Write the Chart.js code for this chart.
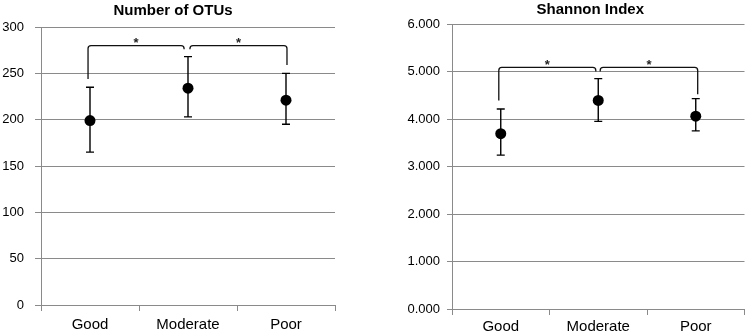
<!DOCTYPE html>
<html>
<head>
<meta charset="utf-8">
<script src="https://cdn.jsdelivr.net/npm/chart.js@4"></script>
<style>
  body { margin: 0; background: #fff; }
  #wrap { display: flex; width: 750px; height: 334px; }
  canvas { display: block; }
</style>
</head>
<body>
<div id="wrap">
  <canvas id="otuChart" width="375" height="334"></canvas>
  <canvas id="shannonChart" width="375" height="334"></canvas>
</div>
<script>
const groups = ['Good', 'Moderate', 'Poor'];

// Number of OTUs (mean, lower and upper end of the error bar)
const otuMean = [199, 234, 221];
const otuLow = [165, 203, 195];
const otuHigh = [235, 268, 250];

// Shannon index
const shannonMean = [3.69, 4.39, 4.06];
const shannonLow = [3.24, 3.95, 3.75];
const shannonHigh = [4.21, 4.85, 4.43];

// significance brackets: x as category index, y in data units
const otuBrackets = [
    { from: -0.02, to: 0.96, y: 280, fromEnd: 244, toEnd: 276 },
    { from: 1.02, to: 2.01, y: 280, fromEnd: 276, toEnd: 259 }
];
const shannonBrackets = [
    { from: -0.02, to: 0.975, y: 5.085, fromEnd: 4.39, toEnd: 5.0 },
    { from: 1.02, to: 2.02, y: 5.085, fromEnd: 5.0, toEnd: 4.52 }
];

const gridColor = '#8a8a8a';
const font = 'Liberation Sans, Arial, sans-serif';

const errorBars = {
    id: 'errorBars',
    beforeDatasetsDraw(chart, args, opts) {
        const { ctx, scales: { x, y } } = chart;
        ctx.save();
        ctx.strokeStyle = '#000';
        ctx.lineWidth = 1.4;
        opts.low.forEach((lo, i) => {
            const px = x.getPixelForValue(i);
            const yLo = y.getPixelForValue(lo);
            const yHi = y.getPixelForValue(opts.high[i]);
            ctx.beginPath();
            ctx.moveTo(px, yLo);
            ctx.lineTo(px, yHi);
            ctx.moveTo(px - 4, yLo);
            ctx.lineTo(px + 4, yLo);
            ctx.moveTo(px - 4, yHi);
            ctx.lineTo(px + 4, yHi);
            ctx.stroke();
        });
        ctx.restore();
    }
};

const brackets = {
    id: 'brackets',
    afterDraw(chart, args, opts) {
        const { ctx, scales: { x, y } } = chart;
        ctx.save();
        ctx.strokeStyle = '#111';
        ctx.lineWidth = 1.3;
        opts.items.forEach(b => {
            const x1 = x.getPixelForValue(b.from);
            const x2 = x.getPixelForValue(b.to);
            const yy = y.getPixelForValue(b.y);
            const y1 = y.getPixelForValue(b.fromEnd);
            const y2 = y.getPixelForValue(b.toEnd);
            ctx.beginPath();
            ctx.moveTo(x1, y1);
            ctx.arcTo(x1, yy, x2, yy, 3);
            ctx.arcTo(x2, yy, x2, y2, 3);
            ctx.lineTo(x2, y2);
            ctx.stroke();
            ctx.fillStyle = '#222';
            ctx.font = 'bold 13px ' + font;
            ctx.textAlign = 'center';
            ctx.textBaseline = 'middle';
            ctx.fillText('*', (x1 + x2) / 2, yy - 2);
        });
        ctx.restore();
    }
};

const chartTitle = {
    id: 'chartTitle',
    afterDraw(chart, args, opts) {
        const { ctx, chartArea } = chart;
        ctx.save();
        ctx.fillStyle = '#000';
        ctx.font = 'bold 15px ' + font;
        ctx.textAlign = 'center';
        ctx.textBaseline = 'middle';
        ctx.fillText(opts.text, (chartArea.left + chartArea.right) / 2 + opts.shift, opts.y);
        ctx.restore();
    }
};

function makeChart(id, cfg) {
    return new Chart(document.getElementById(id), {
        type: 'line',
        data: {
            labels: groups,
            datasets: [{
                data: cfg.mean,
                showLine: false,
                pointRadius: 5.5,
                pointBackgroundColor: '#000',
                pointBorderColor: '#000',
                pointBorderWidth: 0
            }]
        },
        options: {
            responsive: false,
            animation: false,
            layout: { padding: cfg.padding },
            plugins: {
                legend: { display: false },
                tooltip: { enabled: false },
                errorBars: { low: cfg.low, high: cfg.high },
                brackets: { items: cfg.brackets },
                chartTitle: cfg.title
            },
            scales: {
                x: {
                    type: 'category',
                    offset: true,
                    afterFit: s => { s.height = cfg.xHeight; },
                    grid: {
                        offset: true,
                        drawOnChartArea: false,
                        drawTicks: true,
                        tickLength: 6,
                        color: gridColor
                    },
                    border: { color: gridColor, width: 1 },
                    ticks: { color: '#000', font: { family: font, size: 15 }, padding: cfg.xPad }
                },
                y: {
                    min: 0,
                    max: cfg.max,
                    afterFit: s => { s.width = cfg.yWidth; },
                    grid: { color: gridColor, tickLength: cfg.tickLength },
                    border: { color: gridColor, width: 1 },
                    ticks: {
                        stepSize: cfg.step,
                        color: '#000',
                        padding: cfg.tickPad,
                        font: { family: font, size: 13 },
                        callback: cfg.fmt
                    }
                }
            }
        },
        plugins: [errorBars, brackets, chartTitle]
    });
}

makeChart('otuChart', {
    mean: otuMean, low: otuLow, high: otuHigh, brackets: otuBrackets,
    max: 300, step: 50, fmt: v => v,
    padding: { top: 27, right: 40, left: 0, bottom: 0 },
    xHeight: 29, yWidth: 41, tickLength: 6, tickPad: 11, xPad: 5,
    title: { text: 'Number of OTUs', shift: -15, y: 11 }
});

makeChart('shannonChart', {
    mean: shannonMean, low: shannonLow, high: shannonHigh, brackets: shannonBrackets,
    max: 6, step: 1, fmt: v => v.toFixed(3),
    padding: { top: 24, right: 3, left: 0, bottom: 0 },
    xHeight: 25, yWidth: 77, tickLength: 5, tickPad: 7, xPad: 3,
    title: { text: 'Shannon Index', shift: -8, y: 10 }
});
</script>
</body>
</html>
